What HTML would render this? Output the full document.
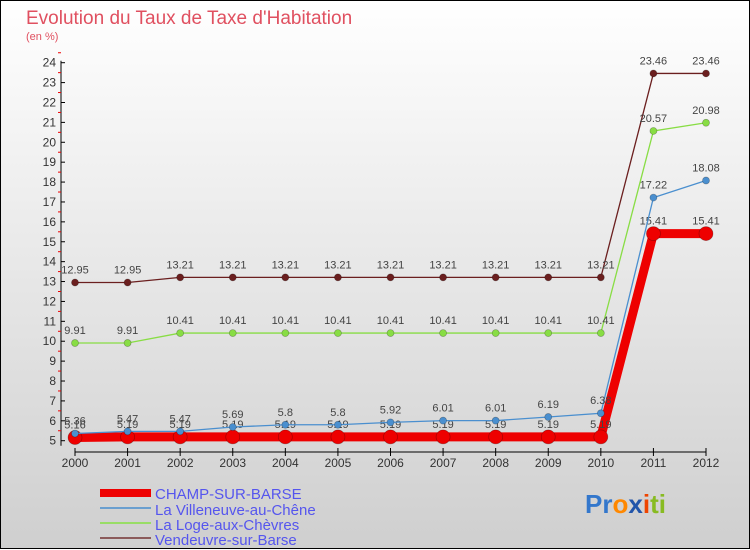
<!DOCTYPE html>
<html><head><meta charset="utf-8"><style>
body{margin:0;width:750px;height:550px;overflow:hidden}
svg{display:block;font-family:"Liberation Sans",sans-serif}
</style></head><body>
<svg id="c" width="750" height="550">
<defs><linearGradient id="bg" x1="0" y1="0" x2="0" y2="1"><stop offset="0" stop-color="#ffffff"/><stop offset="1" stop-color="#cfcfcf"/></linearGradient></defs>
<rect x="0.5" y="0.5" width="749" height="548" fill="url(#bg)" stroke="#000"/>
<text x="26" y="24" font-size="19" fill="#e05060">Evolution du Taux de Taxe d'Habitation</text>
<text x="26" y="40" font-size="11" fill="#e05060">(en %)</text>
<g id="axes"></g><g id="series"></g>
<g>
<rect x="100" y="489" width="51" height="8" fill="#ee0000"/>
<text x="155" y="499" font-size="15" fill="#5555ee">CHAMP-SUR-BARSE</text>
<rect x="100" y="507" width="51" height="2" fill="#6a9fcf"/>
<text x="155" y="515" font-size="15" fill="#5555ee">La Villeneuve-au-Chêne</text>
<rect x="100" y="522" width="51" height="2" fill="#99dd66"/>
<text x="155" y="530" font-size="15" fill="#5555ee">La Loge-aux-Chèvres</text>
<rect x="100" y="537" width="51" height="2" fill="#8b5a5a"/>
<text x="155" y="545" font-size="15" fill="#5555ee">Vendeuvre-sur-Barse</text>
</g>
<text x="585" y="513" font-size="26" font-weight="bold"><tspan fill="#3377cc">Pr</tspan><tspan fill="#ff8800">o</tspan><tspan fill="#2255aa">x</tspan><tspan fill="#ee4400">i</tspan><tspan fill="#88bb22">ti</tspan></text>
</svg>
<script>
const years=[2000,2001,2002,2003,2004,2005,2006,2007,2008,2009,2010,2011,2012];
const champ=[5.16,5.19,5.19,5.19,5.19,5.19,5.19,5.19,5.19,5.19,5.19,15.41,15.41];
const villeneuve=[5.36,5.47,5.47,5.69,5.8,5.8,5.92,6.01,6.01,6.19,6.38,17.22,18.08];
const loge=[9.91,9.91,10.41,10.41,10.41,10.41,10.41,10.41,10.41,10.41,10.41,20.57,20.98];
const vendeuvre=[12.95,12.95,13.21,13.21,13.21,13.21,13.21,13.21,13.21,13.21,13.21,23.46,23.46];
const yTicks=[5,6,7,8,9,10,11,12,13,14,15,16,17,18,19,20,21,22,23,24];
const NS="http://www.w3.org/2000/svg";
const x=i=>75+i*(706-75)/(years.length-1);
const y=v=>440.7-(v-5)*(440.7-62.7)/19;
function mk(p,t,a){const e=document.createElementNS(NS,t);for(const k in a)e.setAttribute(k,a[k]);p.appendChild(e);return e;}
const ax=document.getElementById('axes');
let e=mk(ax,'line',{x1:61,y1:y(5)+5,x2:61,y2:y(24)-2,stroke:'#000'});


yTicks.forEach(t=>{
 mk(ax,'line',{x1:61,x2:65,y1:y(t),y2:y(t),stroke:'#000'});
 mk(ax,'line',{x1:58,x2:61,y1:y(t+0.5),y2:y(t+0.5),stroke:'#e00'});
 const tx=mk(ax,'text',{x:56,y:y(t)+4,'font-size':12,'text-anchor':'end',fill:'#333'});tx.textContent=t;
 
 
});
e=mk(ax,'line',{x1:75,x2:706,y1:452,y2:452,stroke:'#000'});


years.forEach((yr,i)=>{
 mk(ax,'line',{x1:x(i),x2:x(i),y1:448,y2:456,stroke:'#000'});
 const tx=mk(ax,'text',{x:x(i),y:467,'font-size':12,'text-anchor':'middle',fill:'#333'});tx.textContent=yr;
 
 
});
const sg=document.getElementById('series');
function draw(data,col,w,r,name){
 const g=mk(sg,'g',{});
 
 
 mk(g,'polyline',{points:data.map((v,i)=>x(i)+','+y(v)).join(' '),fill:'none',stroke:col,'stroke-width':w});
 data.forEach((v,i)=>{
  const c=mk(g,'circle',{cx:x(i),cy:y(v),r:r,fill:col,stroke:'rgba(0,0,0,0.3)','stroke-width':0.7});
  
  
  const t=mk(g,'text',{x:x(i),y:y(v)-9,'font-size':11,'text-anchor':'middle',fill:'#444'});t.textContent=v;
  
  
 });
}
draw(vendeuvre,'#6b1f1f',1.3,3.5,'vendeuvre');
draw(loge,'#88dd44',1.3,3.5,'loge');
draw(champ,'#ee0000',9,7,'champ');
draw(villeneuve,'#4a8fcf',1.3,3.5,'villeneuve');
</script>
</body></html>
